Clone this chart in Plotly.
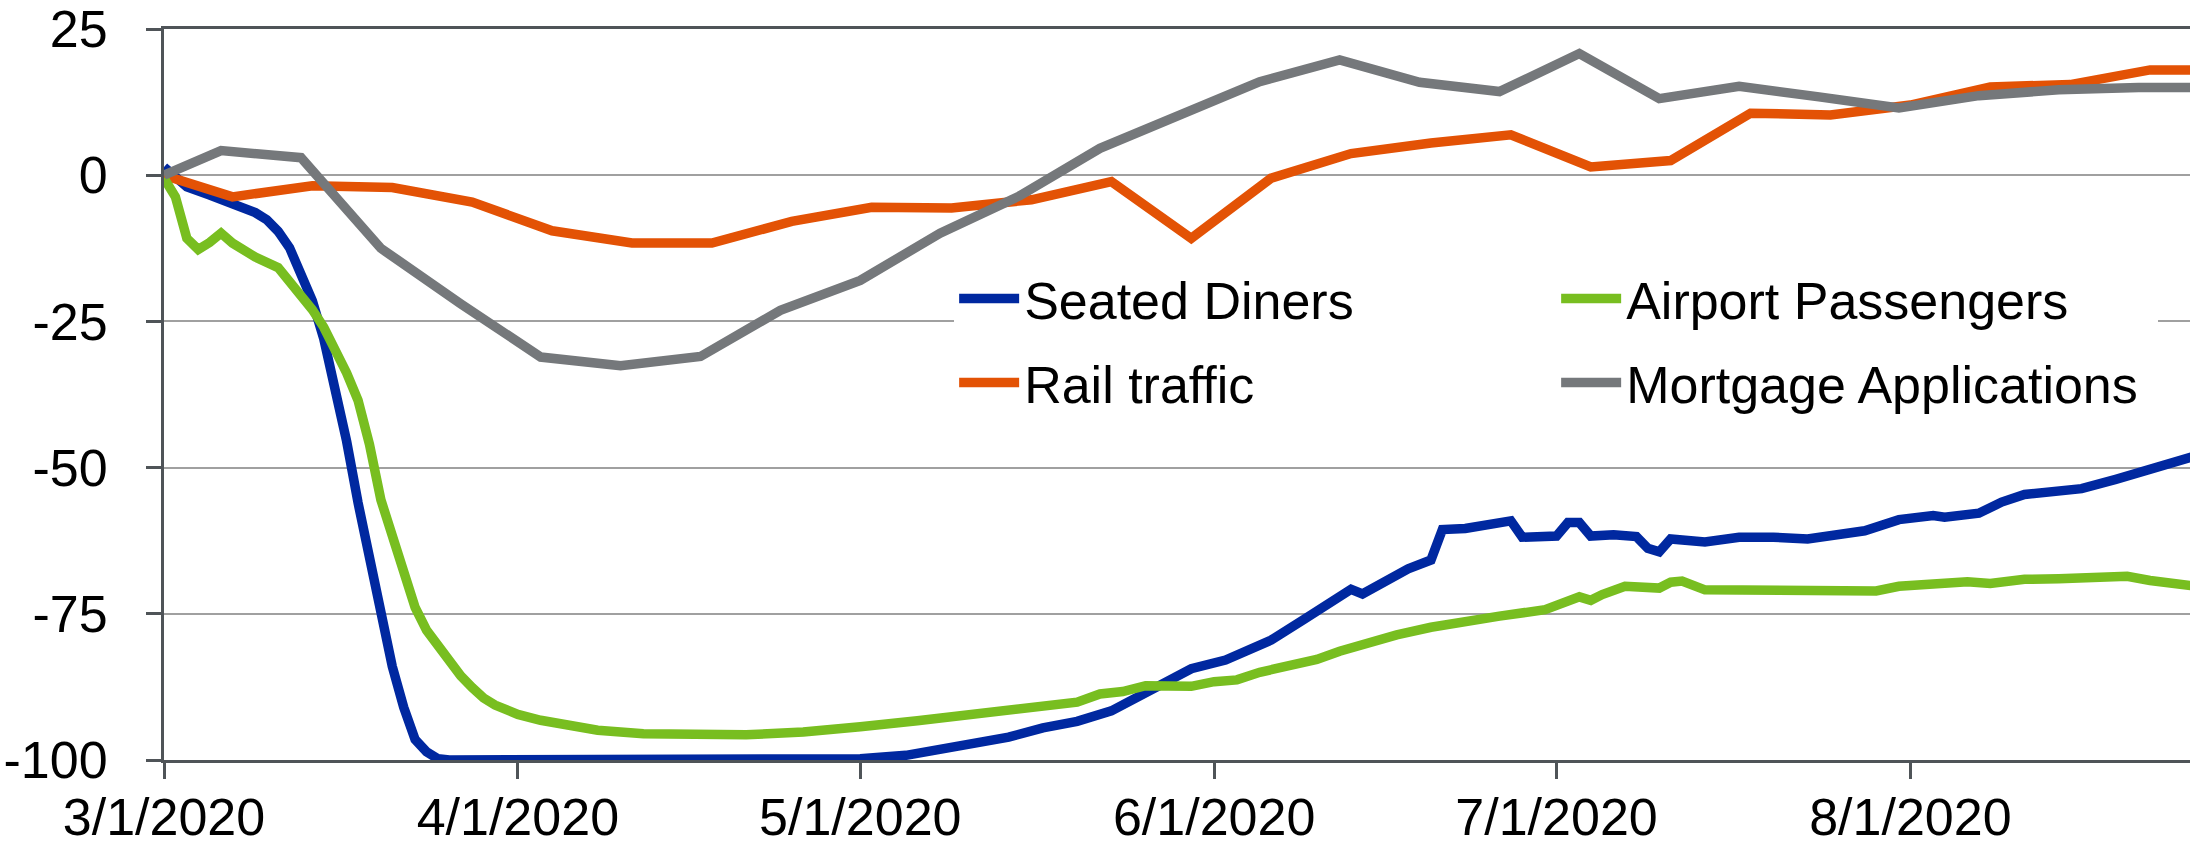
import pandas as pd
import plotly.graph_objects as go

BASE = pd.Timestamp("2020-03-01")

# Seated Diners (days since 3/1/2020, % change y/y)
diner_day = [0, 2, 4, 6, 8, 9, 10, 11, 12, 13, 14, 15, 16, 17, 18, 19, 20, 21, 22, 23, 24, 25,
             35, 45, 55, 60, 61, 65, 69, 74, 77, 80, 83, 85, 88, 90, 93, 95, 97, 100, 102, 104,
             105, 107, 109, 111, 112, 114, 117, 118, 119, 121, 122, 123, 124, 125, 127, 129, 130,
             131, 132, 135, 138, 141, 144, 149, 152, 155, 156, 159, 161, 163, 166, 168, 171, 173,
             175, 177, 178]
diner_val = [1.4, -2.0, -3.4, -4.9, -6.4, -7.6, -9.6, -12.4, -16.5, -21.5, -28, -36, -45.5, -56,
             -66, -75.5, -84, -91, -96.5, -98.6, -99.8, -100,
             -100, -100, -100, -100, -99.8, -99.2, -98.0, -96.1, -94.5, -93.4, -91.6, -89.5, -86.5,
             -84.4, -82.9, -81.4, -79.5, -75.8, -73.3, -70.8,
             -71.6, -69.3, -67.3, -65.8, -60.6, -60.4, -59.4, -59.1, -61.9, -61.6, -61.7, -59.4,
             -59.4, -61.7, -61.5, -61.8, -63.8,
             -64.4, -62.2, -62.7, -61.9, -61.9, -62.2, -60.8, -58.9, -58.2, -58.5, -57.8, -55.9,
             -54.6, -54.1, -53.6, -52.0, -50.8,
             -49.5, -48.7, -48.0]

# Airport Passengers
air_day = [0, 1, 2, 3, 4, 5, 6, 8, 10, 11, 12, 13, 14, 15, 16, 17, 18, 19, 20, 21, 22, 23, 24,
           25, 26, 27, 28, 29, 31, 33, 36, 38, 42, 47, 51, 56, 59, 61, 66, 69, 74, 78, 80, 82, 84,
           86, 90, 92, 94, 96, 101, 103, 106, 108, 111, 114, 117, 121, 122, 124, 125, 126, 128,
           130, 131, 132, 133, 135, 138, 144, 150, 152, 155, 158, 160, 163, 166, 169, 172, 174,
           176, 178]
air_val = [-0.5, -3.7, -10.8, -12.7, -11.5, -9.9, -11.6, -14.0, -15.8, -18.0, -20.6, -23.0, -26,
           -29.5, -33.8, -38.5, -46, -55.5, -61.5, -68.3, -73.9, -77.8, -80.6,
           -83.3, -85.6, -87.6, -89.4, -90.6, -92.2, -93.2, -94.4, -94.9, -95.5, -95.8, -95.7,
           -95.2, -94.9, -94.3, -93.3, -92.7, -91.5, -90.6, -90.1, -88.7, -88.3,
           -87.3, -87.4, -86.6, -86.3, -85.0, -82.8, -81.4, -79.5, -78.6, -77.3, -76.2, -75.4,
           -74.3, -73.5, -72.1, -72.7, -71.7, -70.3,
           -70.7, -70.6, -69.6, -69.4, -70.9, -71.0, -71.3, -71.1, -70.3, -69.7, -69.5, -69.8,
           -69.1, -69.0, -68.6, -68.6, -69.3,
           -69.8, -70.3]

# Rail traffic (weekly)
rail_day = [0, 6, 13, 20, 27, 34, 41, 48, 55, 62, 69, 76, 83, 90, 97, 104, 111, 118, 125, 132,
            139, 146, 153, 160, 167, 174, 181]
rail_val = [0, -3.7, -1.8, -2.1, -4.6, -9.5, -11.6, -11.6, -7.9, -5.5, -5.6, -4.2, -1.1, -10.8,
            -0.5, 3.7, 5.5, 6.9, 1.4, 2.5, 10.6, 10.3, 12.0, 15.1, 15.5, 18.0, 18.0]

# Mortgage Applications (weekly)
mort_day = [0, 5, 12, 19, 26, 33, 40, 47, 54, 61, 68, 75, 82, 89, 96, 103, 110, 117, 124, 131,
            138, 145, 152, 159, 166, 173, 180]
mort_val = [0, 4.2, 3.0, -12.5, -22.0, -31.1, -32.6, -31.0, -23.1, -18.0, -9.9, -3.5, 4.6, 10.2,
            16.0, 19.7, 15.9, 14.3, 20.8, 13.1, 15.2, 13.4, 11.5, 13.6, 14.6, 15.0, 15.0]

y_ticks = [-100, -75, -50, -25, 0, 25]
y_ticktext = ["-100", "-75", "-50", "-25", "0", "25"]


def to_dates(days):
    return [BASE + pd.Timedelta(days=d) for d in days]


FONT = "Liberation Sans, Arial, sans-serif"
FS = 52
W = 9.5

fig = go.Figure()
fig.add_trace(go.Scatter(x=to_dates(diner_day), y=diner_val, mode="lines", name="Seated Diners",
                         line=dict(color="#0028A0", width=W), legend="legend"))
fig.add_trace(go.Scatter(x=to_dates(rail_day), y=rail_val, mode="lines", name="Rail traffic",
                         line=dict(color="#E35205", width=W), legend="legend2"))
fig.add_trace(go.Scatter(x=to_dates(air_day), y=air_val, mode="lines", name="Airport Passengers",
                         line=dict(color="#78BE20", width=W), legend="legend"))
fig.add_trace(go.Scatter(x=to_dates(mort_day), y=mort_val, mode="lines", name="Mortgage Applications",
                         line=dict(color="#75787B", width=W), legend="legend2"))

x_range = [BASE, pd.Timestamp("2020-08-25 12:00")]

legend_common = dict(
    orientation="h", xanchor="left", yanchor="middle",
    bgcolor="white", borderwidth=0,
    font=dict(family=FONT, size=FS, color="black"),
    entrywidth=527, entrywidthmode="pixels",
    itemwidth=60,
    itemclick=False,
)

fig.update_layout(
    template="none",
    width=2190, height=847,
    margin=dict(l=164, r=0, t=29, b=87, pad=0, autoexpand=False),
    paper_bgcolor="white", plot_bgcolor="white",
    font=dict(family=FONT, size=FS, color="black"),
    showlegend=True,
    legend=dict(x=0.390, y=0.631, **legend_common),
    legend2=dict(x=0.390, y=0.516, **legend_common),
    xaxis=dict(
        type="date", range=x_range, automargin=False,
        tick0="2020-03-01", dtick="M1", tickformat="%-m/%-d/%Y",
        showgrid=False, zeroline=False,
        showline=True, linecolor="#4F5458", linewidth=3, mirror=True,
        ticks="outside", ticklen=16, tickwidth=2.5, tickcolor="#4F5458",
        tickfont=dict(family=FONT, size=FS, color="black"),
        ticklabelstandoff=-6,
    ),
    xaxis2=dict(
        type="date", range=x_range, overlaying="x", anchor="y", side="bottom", automargin=False,
        tick0="2020-03-01", dtick="M1",
        showgrid=False, zeroline=False, showline=False,
        ticks="inside", ticklen=15, tickwidth=2.5, tickcolor="#4F5458",
        showticklabels=False,
    ),
    yaxis=dict(
        range=[-100, 25], tickvals=y_ticks, ticktext=y_ticktext, automargin=False,
        showgrid=True, gridcolor="#A0A0A0", gridwidth=2,
        zeroline=False,
        showline=True, linecolor="#4F5458", linewidth=3,
        ticks="outside", ticklen=15, tickwidth=2.5, tickcolor="#4F5458",
        tickfont=dict(family=FONT, size=FS, color="black"),
        ticklabelstandoff=28,
    ),
)

fig.write_html(
    "out.html",
    config={"displayModeBar": False},
    post_script="document.body.style.margin='0';document.body.style.padding='0';"
                "document.body.style.overflow='hidden';",
)
